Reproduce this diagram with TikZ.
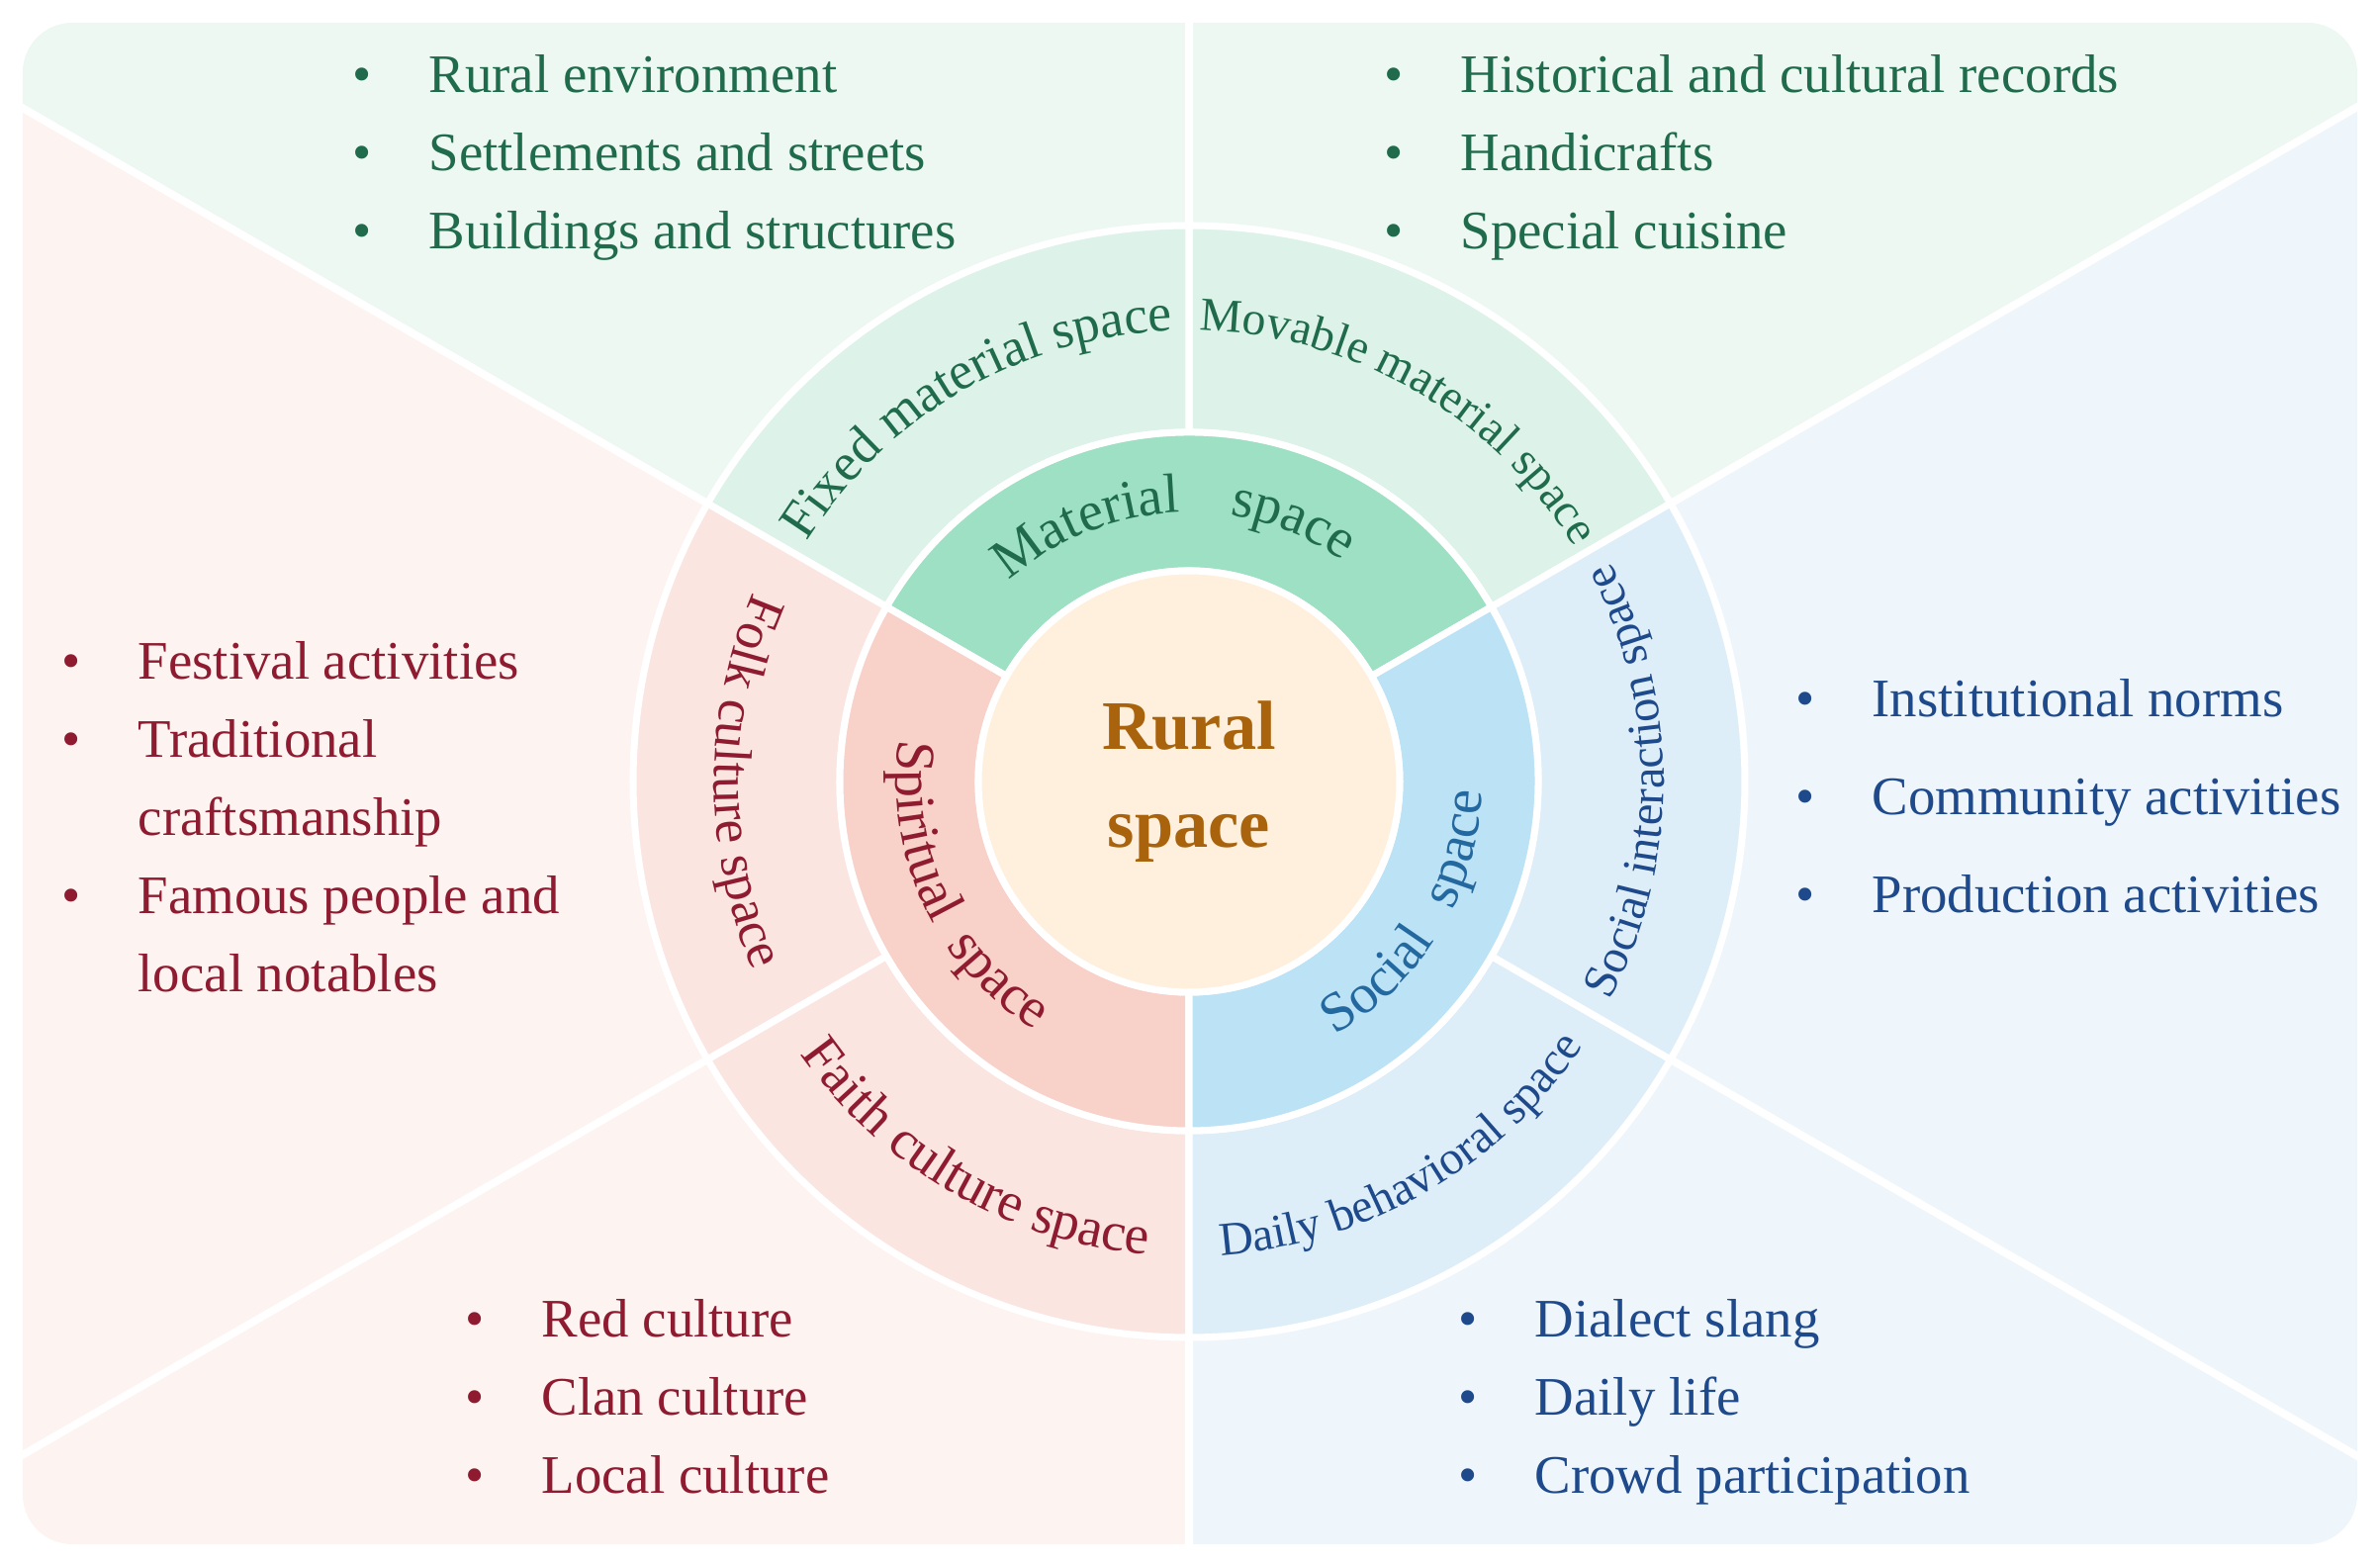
\documentclass[tikz,border=0pt]{standalone}
\usepackage{fontspec}
\setmainfont{Liberation Serif}
\usetikzlibrary{decorations.text}

\definecolor{greentext}{HTML}{1F6B4C}
\definecolor{redtext}{HTML}{8E1B2F}
\definecolor{bluetext}{HTML}{1E4A8C}
\definecolor{socialtext}{HTML}{2468A0}
\definecolor{ruraltext}{HTML}{A8630C}
\definecolor{ruralfill}{HTML}{FFF0DE}
\definecolor{matfill}{HTML}{9EE0C4}
\definecolor{spifill}{HTML}{F8D1C9}
\definecolor{socfill}{HTML}{BCE2F5}
\definecolor{outgreen}{HTML}{DDF3E9}
\definecolor{outred}{HTML}{FBE5E1}
\definecolor{outblue}{HTML}{DEEEF9}
\definecolor{bggreen}{HTML}{EEF8F3}
\definecolor{bgred}{HTML}{FDF3F1}
\definecolor{bgblue}{HTML}{EFF6FB}

\tikzset{
  ringline/.style={draw=white, line width=2pt},
  divider/.style={white, line width=2.2pt},
  item/.style={font=\fontsize{15.6}{18}\selectfont, anchor=base west, inner sep=0pt},
}
\newcommand{\bul}{\llap{\textbullet\hspace{0.58cm}}}

\begin{document}
\begin{tikzpicture}
\useasboundingbox (-12.02,-7.92) rectangle (12.04,7.90);

% Background panels
\begin{scope}
\clip[rounded corners=0.5cm] (-11.79,-7.71) rectangle (11.81,7.67);
\fill[bggreen] (0,0) -- (30:20) -- (90:20) -- (150:20) -- cycle;
\fill[bgred] (0,0) -- (150:20) -- (210:20) -- (270:20) -- cycle;
\fill[bgblue] (0,0) -- (270:20) -- (330:20) -- (30:20) -- cycle;
\foreach \a in {30,90,...,330}
  \draw[divider] (0,0) -- (\a:20);
\end{scope}

% Outer ring
\foreach \s/\e/\c in {30/90/outgreen,90/150/outgreen,150/210/outred,210/270/outred,270/330/outblue,330/390/outblue}
  \filldraw[fill=\c, ringline] (\s:3.53) arc[start angle=\s, end angle=\e, radius=3.53]
    -- (\e:5.62) arc[start angle=\e, end angle=\s, radius=5.62] -- cycle;

% Inner ring
\foreach \s/\e/\c in {30/150/matfill,150/270/spifill,270/390/socfill}
  \filldraw[fill=\c, ringline] (\s:2.13) arc[start angle=\s, end angle=\e, radius=2.13]
    -- (\e:3.53) arc[start angle=\e, end angle=\s, radius=3.53] -- cycle;

% Centre
\node[circle, fill=ruralfill, draw=white, line width=2pt, minimum size=4.26cm, inner sep=0pt,
  align=center, text=ruraltext, font=\fontsize{20}{28}\selectfont\bfseries] (rural) at (0,0) {Rural\\space};

% Inner ring labels
\path[decorate, decoration={text along path, text align=center, text color=greentext,
  text={|\fontsize{16}{16}\selectfont|Material{\hspace{0.5cm}}space}}]
  (153.5:2.72) arc[start angle=153.5, end angle=33.5, radius=2.72];
\path[decorate, decoration={text along path, text align=center, text color=redtext,
  text={|\fontsize{16}{16}\selectfont|Spiritual{\hspace{0.25cm}}space}}]
  (145:2.96) arc[start angle=145, end angle=265, radius=2.96];
\path[decorate, decoration={text along path, text align=center, text color=socialtext,
  text={|\fontsize{16}{16}\selectfont|Social{\hspace{0.35cm}}space}}]
  (269:2.96) arc[start angle=269, end angle=389, radius=2.96];

% Outer ring labels
\path[decorate, decoration={text along path, text align=center, text color=greentext,
  text={|\fontsize{15.3}{15}\selectfont|Fixed material space}}]
  (170:4.56) arc[start angle=170, end angle=70, radius=4.56];
\path[decorate, decoration={text along path, text align=center, text color=greentext,
  text={|\fontsize{13.6}{14}\selectfont|Movable material space}}]
  (110:4.56) arc[start angle=110, end angle=10, radius=4.56];
\path[decorate, decoration={text along path, text align=center, text color=bluetext,
  text={|\fontsize{13.8}{14}\selectfont|Social interaction space}}]
  (-50:4.80) arc[start angle=-50, end angle=50, radius=4.80];
\path[decorate, decoration={text along path, text align=center, text color=bluetext,
  text={|\fontsize{13.6}{14}\selectfont|Daily behavioral space}}]
  (250:4.80) arc[start angle=250, end angle=350, radius=4.80];
\path[decorate, decoration={text along path, text align=center, text color=redtext,
  text={|\fontsize{15.8}{16}\selectfont|Faith culture space}}]
  (190:4.80) arc[start angle=190, end angle=290, radius=4.80];
\path[decorate, decoration={text along path, text align=center, text color=redtext,
  text={|\fontsize{15.3}{15}\selectfont|Folk culture space}}]
  (130:4.80) arc[start angle=130, end angle=230, radius=4.80];

% Fixed material items
\node[item, text=greentext] (fix1) at (-7.69,6.96) {\bul Rural environment};
\node[item, text=greentext] (fix2) at (-7.69,6.17) {\bul Settlements and streets};
\node[item, text=greentext] (fix3) at (-7.69,5.38) {\bul Buildings and structures};

% Movable material items
\node[item, text=greentext] (mov1) at (2.74,6.96) {\bul Historical and cultural records};
\node[item, text=greentext] (mov2) at (2.74,6.17) {\bul Handicrafts};
\node[item, text=greentext] (mov3) at (2.74,5.38) {\bul Special cuisine};

% Folk culture items
\node[item, text=redtext] (folk1) at (-10.63,1.03) {\bul Festival activities};
\node[item, text=redtext] (folk2) at (-10.63,0.24) {\bul Traditional};
\node[item, text=redtext] (folk3) at (-10.63,-0.55) {craftsmanship};
\node[item, text=redtext] (folk4) at (-10.63,-1.34) {\bul Famous people and};
\node[item, text=redtext] (folk5) at (-10.63,-2.13) {local notables};

% Social interaction items
\node[item, text=bluetext] (soc1) at (6.90,0.65) {\bul Institutional norms};
\node[item, text=bluetext] (soc2) at (6.90,-0.34) {\bul Community activities};
\node[item, text=bluetext] (soc3) at (6.90,-1.33) {\bul Production activities};

% Faith culture items
\node[item, text=redtext] (faith1) at (-6.55,-5.62) {\bul Red culture};
\node[item, text=redtext] (faith2) at (-6.55,-6.41) {\bul Clan culture};
\node[item, text=redtext] (faith3) at (-6.55,-7.20) {\bul Local culture};

% Daily behavioral items
\node[item, text=bluetext] (daily1) at (3.49,-5.62) {\bul Dialect slang};
\node[item, text=bluetext] (daily2) at (3.49,-6.41) {\bul Daily life};
\node[item, text=bluetext] (daily3) at (3.49,-7.20) {\bul Crowd participation};
\end{tikzpicture}
\end{document}
